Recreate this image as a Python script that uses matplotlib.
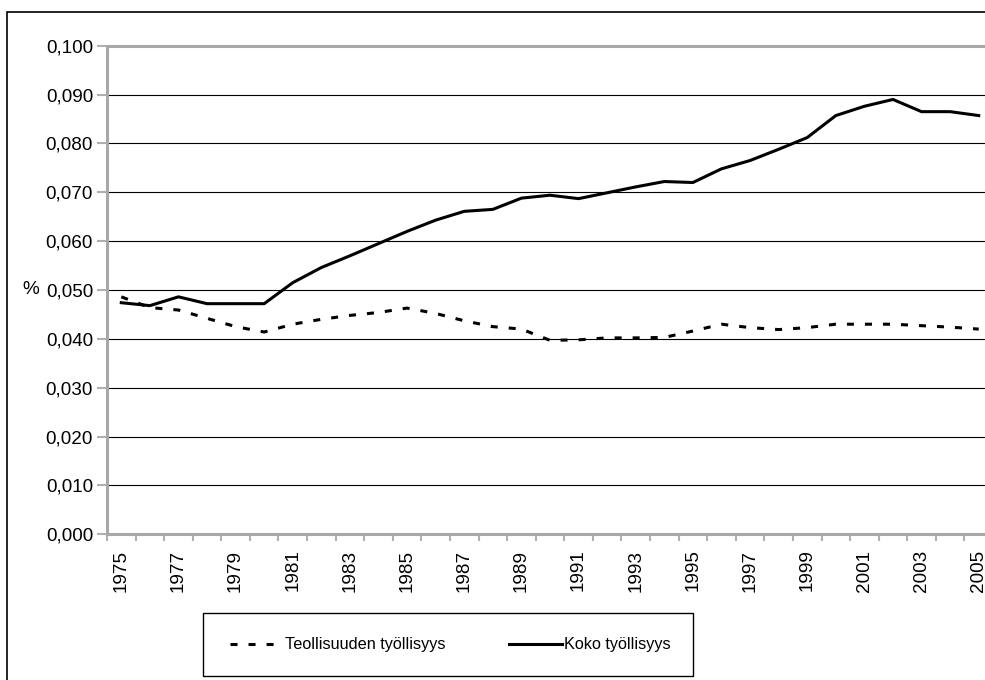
import matplotlib
matplotlib.use("Agg")
import matplotlib.pyplot as plt
from matplotlib.patches import Rectangle
from matplotlib.ticker import FuncFormatter

plt.rcParams['font.family'] = ['Liberation Sans', 'DejaVu Sans']

# Vuodet ja sarjat
vuodet = list(range(1975, 2006))
teollisuus = [0.0486, 0.0464, 0.0459, 0.0442, 0.0425, 0.0414, 0.0430, 0.0440, 0.0448,
              0.0454, 0.0463, 0.0452, 0.0437, 0.0425, 0.0420, 0.0397, 0.0398, 0.0402,
              0.0402, 0.0403, 0.0416, 0.0430, 0.0423, 0.0419, 0.0423, 0.0430, 0.0430,
              0.0430, 0.0427, 0.0424, 0.0420]
koko = [0.0474, 0.0468, 0.0486, 0.0472, 0.0472, 0.0472, 0.0515, 0.0546, 0.0570,
        0.0595, 0.0620, 0.0643, 0.0661, 0.0665, 0.0688, 0.0694, 0.0687, 0.0699,
        0.0711, 0.0722, 0.0720, 0.0748, 0.0765, 0.0788, 0.0812, 0.0857, 0.0876,
        0.0890, 0.0865, 0.0865, 0.0857]
nimet = ["Teollisuuden työllisyys", "Koko työllisyys"]

W, H = 985, 680
fig = plt.figure(figsize=(W / 100, H / 100), dpi=100)

# ulkokehys
fig.patches.append(Rectangle((7 / W, -0.1), 1.2, (H - 12) / H + 0.1, transform=fig.transFigure,
                             fill=False, edgecolor="black", linewidth=1.2))

ax = fig.add_axes([107 / W, (H - 534.3) / H, 886 / W, 488.6 / H])
x = list(range(len(vuodet)))

ax.plot(x, teollisuus, color="black", linewidth=2.2, linestyle=(0, (2.3, 3.6)),
        dash_capstyle="butt", label=nimet[0], zorder=3)
ax.plot(x, koko, color="black", linewidth=2.2, label=nimet[1], zorder=3,
        solid_joinstyle="round")

ax.set_xlim(-0.5, len(vuodet) - 0.5)
ax.set_ylim(0, 0.1)
ax.set_yticks([i / 100 for i in range(11)])
ax.yaxis.set_major_formatter(FuncFormatter(lambda v, p: f"{v:.3f}".replace(".", ",")))
ax.grid(axis="y", color="black", linewidth=0.8)
ax.set_axisbelow(True)

# rajaviivat kategorioiden välissä, nimikkeet joka toiselle vuodelle
ax.set_xticks([i - 0.5 for i in range(len(vuodet) + 1)])
ax.set_xticklabels([])
ax.set_xticks(x[::2], minor=True)
ax.set_xticklabels([str(v) for v in vuodet[::2]], minor=True, rotation=90)
ax.tick_params(axis="x", which="major", length=5, color="#b0b0b0", width=1.5)
ax.tick_params(axis="x", which="minor", length=0, pad=11, labelsize=13.6)
ax.tick_params(axis="y", length=7, color="#b0b0b0", width=1.5, labelsize=13.6, pad=3)

for s in ax.spines.values():
    s.set_color("#a8a8a8")
    s.set_linewidth(2.2)

ax.text(-85 / 886, 0.5, "%", transform=ax.transAxes, fontsize=13.6,
        ha="left", va="center")

fig.patches.append(Rectangle((203 / W, (H - 676) / H), 490 / W, 63 / H, transform=fig.transFigure,
                             fill=False, edgecolor="black", linewidth=1.0))
fig.legend(loc="center", bbox_to_anchor=(450 / W, (H - 645) / H), ncol=2, frameon=False,
           fontsize=11.7, handlelength=3.3, handletextpad=0.1, columnspacing=3.9)

fig.savefig("out.png", dpi=100)
